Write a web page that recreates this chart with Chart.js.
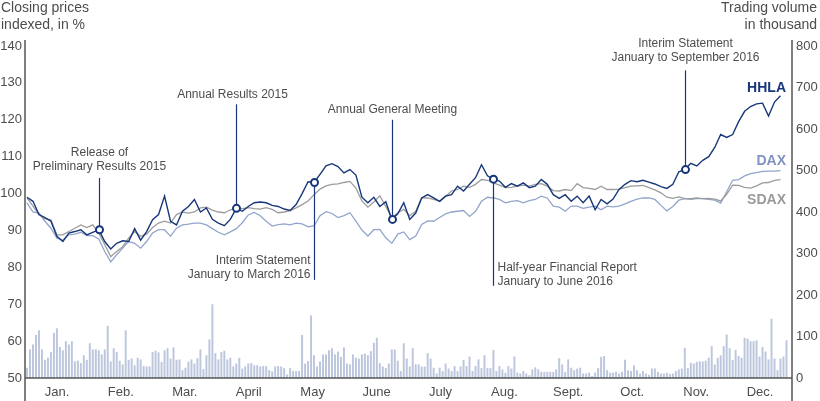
<!DOCTYPE html>
<html>
<head>
<meta charset="utf-8">
<script src="https://cdn.jsdelivr.net/npm/chart.js@4.4.0/dist/chart.umd.min.js"></script>
<style>
  html, body { margin: 0; padding: 0; background: #fff; }
  #wrap { width: 820px; height: 401px; position: relative; }
</style>
</head>
<body>
<div id="wrap"><canvas id="stock"></canvas></div>
<script>
// month labels on the time axis
const months = ['Jan.', 'Feb.', 'Mar.', 'April', 'May', 'June', 'July', 'Aug.', 'Sept.', 'Oct.', 'Nov.', 'Dec.'];

// closing prices indexed in %, one value every second trading day
const hhla = [99, 97.9, 94.3, 93.5, 92.5, 88.4, 87, 89.3, 89.7, 90.2, 88.8, 89.5, 90.2, 87, 85, 86.5, 87.2, 87, 90.5, 87.4, 89.7, 92.9, 94.3, 99.3, 92.5, 91.5, 95.2, 96.5, 98.4, 95, 96.1, 93,
  92, 91.3, 93, 96, 95.2, 96.5, 97.5, 97.7, 97.5, 96.8, 96.5, 95.8, 95.4, 97, 100, 103.2, 103, 105.2, 107.5, 108.1, 107.3, 105.6, 106.5, 105, 99, 97.5, 99, 96.5, 97.8, 93, 94.5, 97.5, 93,
  94.7, 98.8, 99.7, 98.8, 97.9, 99.3, 99.7, 102, 100.7, 102.5, 104.3, 107.8, 104.8, 103.9, 103.4, 101.7, 102.7, 102, 102.9, 101.6, 102, 103.8, 102.5, 99.7, 98.7, 99.7, 97.9, 99.3, 97.5, 99.3, 95.6, 98.4, 97.2,
  98.5, 101.1, 102.5, 103.5, 103.2, 103.6, 103.1, 102.6, 101.9, 101.4, 102.5, 105.9, 106.5, 108.2, 107.5, 109, 110, 112.5, 116, 115.2, 116, 119.5, 122.3, 123.6, 124.3, 124.5, 121, 124.8, 126.5];

const dax = [97.5, 95, 94.7, 92.5, 90.6, 87.9, 87.4, 88.8, 89, 89.5, 88.6, 88.6, 87.7, 84.3, 81.5, 83.4, 85.2, 87, 86.5, 85.2, 87, 89.3, 90.2, 90.2, 88.4, 90.6, 91.5, 91.7, 92, 92, 91.5, 90.5,
  89.5, 88.8, 89.6, 90.5, 92.1, 94.2, 94.9, 94, 92.5, 91.2, 91.6, 91.8, 91.5, 92, 91.8, 91, 91.2, 94, 95.1, 94.6, 93.5, 94, 94.8, 92.5, 90.1, 88.5, 90.2, 90.3, 88, 86.5, 89, 89.6, 87.5,
  88.5, 91.6, 92.6, 92.5, 93.5, 94.5, 95, 95.2, 95.4, 93.8, 95.2, 97.9, 99, 98.8, 98.4, 97.5, 97.9, 98.1, 97.5, 98.1, 98.4, 99.3, 98.8, 96.6, 96.3, 95.2, 96.6, 96.6, 96, 96.3, 96.6, 95.6, 96.6,
  96.4, 96.6, 97.2, 97.9, 98.5, 98.8, 98.8, 98.4, 96.8, 95.3, 96.5, 98.2, 98.6, 98.4, 98.6, 98.6, 98.4, 98.2, 97.4, 100.5, 103.6, 103.8, 104.8, 105.4, 105.7, 106, 106.1, 106.1, 106.2];

const sdax = [98.8, 96.6, 94.3, 93.2, 92.9, 88.8, 88.8, 89.7, 90.6, 91.5, 90.8, 91.5, 89.3, 86.1, 82.9, 84.3, 85.6, 87.9, 89.7, 88.4, 89, 90.8, 92, 92.5, 92, 94.3, 95, 94.7, 95, 96.1, 96.3, 95.5,
  95, 94.8, 95.6, 96, 95.9, 96.2, 95.9, 95.8, 96.2, 95.7, 94.8, 95, 95.4, 96.1, 97, 98, 99.7, 101.2, 102.1, 102.5, 102.6, 103, 103.3, 101.5, 98, 96.3, 97.7, 99.4, 96.5, 93.4, 94.8, 95.7, 94,
  95.2, 98.8, 98.8, 98.4, 97.9, 99.3, 100.7, 101.1, 102, 101.7, 102.5, 103.8, 103.6, 102.9, 102.3, 101.6, 101.7, 102, 102.3, 102, 102.5, 102.7, 102, 100.8, 100.7, 101.1, 100.8, 102.7, 101.6, 101.4, 101.1, 102, 101.1,
  101.1, 101.2, 101.6, 102, 102.1, 102.2, 101.6, 101, 100.2, 99, 98.7, 99.1, 98.6, 98.6, 98.8, 98.6, 98.7, 98.5, 98, 99.8, 102.3, 102.2, 101.7, 101.5, 102.1, 102.9, 103, 103.6, 103.8];

// trading volume in thousand, one value per trading day
const volume = [24, 68, 80, 103, 114, 68, 43, 48, 62, 108, 119, 74, 66, 88, 80, 88, 39, 41, 35, 54, 43, 83, 68, 68, 66, 56, 68, 125, 39, 71, 62, 41, 32, 114, 43, 46, 30, 48, 44, 28, 27, 27, 62, 65, 61, 38, 66, 71, 46, 73, 43, 44, 18, 24, 39, 44, 34, 47, 68, 21, 54, 92, 177, 59, 44, 62, 65, 44, 48, 27, 34, 48, 22, 27, 34, 35, 30, 30, 27, 28, 28, 18, 15, 27, 28,
  27, 23, 8, 23, 16, 16, 16, 103, 34, 40, 150, 54, 27, 39, 56, 56, 66, 71, 56, 63, 50, 73, 34, 32, 56, 48, 46, 56, 58, 54, 64, 84, 96, 35, 27, 23, 34, 68, 68, 41, 16, 83, 46, 27, 71, 32, 32, 27, 27, 59, 46, 24, 10, 24, 16, 34, 22, 16, 28, 16, 27, 43, 28, 51, 16, 28, 44, 23, 54, 23, 23, 67, 16, 28, 20, 12, 28, 22, 51, 12, 10, 16, 10, 6, 20, 25, 20, 14, 14, 14, 14,
  14, 20, 47, 32, 14, 44, 24, 18, 22, 24, 10, 10, 12, 4, 12, 23, 50, 52, 18, 12, 12, 14, 10, 14, 43, 18, 16, 30, 18, 10, 16, 10, 7, 22, 22, 14, 10, 10, 12, 9, 10, 16, 20, 22, 72, 23, 36, 34, 38, 39, 39, 41, 48, 76, 32, 48, 54, 76, 104, 71, 43, 67, 52, 48, 96, 94, 88, 88, 90, 51, 74, 63, 44, 142, 46, 18, 46, 51, 90];

// events (trading day) and their captions
const eventDays = [24, 70, 96, 122, 156, 220];
const eventTexts = [
  ['Release of', 'Preliminary Results 2015'],
  ['Annual Results 2015'],
  ['Interim Statement', 'January to March 2016'],
  ['Annual General Meeting'],
  ['Half-year Financial Report', 'January to June 2016'],
  ['Interim Statement', 'January to September 2016']
];

// caption placement, in index points on the left scale
const eventLayout = [
  { align: 'center', dx: 0, textAt: 111.1, lineTo: 104.2 },
  { align: 'center', dx: -4, textAt: 126.8, lineTo: 124.2 },
  { align: 'right', dx: -4, textAt: 81.7, lineTo: 76.6 },
  { align: 'center', dx: 0, textAt: 122.8, lineTo: 120 },
  { align: 'left', dx: 4, textAt: 79.9, lineTo: 75 },
  { align: 'center', dx: 0, textAt: 140.5, lineTo: 133.4 }
];

const family = '"Liberation Sans", Arial, sans-serif';
const textGrey = '#4d4d4d';
const axisGrey = '#555555';
const navy = '#17377a';
const lightBlue = '#93a5cb';
const grey = '#9c9c9c';
const barColor = '#bcc6dc';

const seriesLabels = [
  { text: 'HHLA', color: navy, at: 128.7 },
  { text: 'DAX', color: '#7f92c0', at: 108.9 },
  { text: 'SDAX', color: '#9a9a9a', at: 98.2 }
];

const everyOther = arr => arr.map((v, i) => ({ x: i * 2, y: v }));

const frame = {
  id: 'frame',
  afterDatasetsDraw(chart) {
    const { ctx, chartArea: a } = chart;
    const y = chart.scales.y;
    ctx.save();
    ctx.strokeStyle = axisGrey;
    ctx.lineWidth = 1.5;
    ctx.beginPath();
    ctx.moveTo(a.left, a.top - 6);
    ctx.lineTo(a.left, chart.height);
    ctx.moveTo(a.right, a.top - 6);
    ctx.lineTo(a.right, chart.height);
    ctx.moveTo(a.left, a.bottom);
    ctx.lineTo(a.right, a.bottom);
    ctx.stroke();

    ctx.fillStyle = textGrey;
    ctx.font = '14px ' + family;
    ctx.textBaseline = 'middle';
    ctx.textAlign = 'left';
    ctx.fillText('Closing prices', 1, 8);
    ctx.fillText('indexed, in %', 1, 25);
    ctx.textAlign = 'right';
    ctx.fillText('Trading volume', chart.width - 3, 8);
    ctx.fillText('in thousand', chart.width - 3, 25);

    ctx.font = 'bold 14px ' + family;
    seriesLabels.forEach(s => {
      ctx.fillStyle = s.color;
      ctx.fillText(s.text, a.right - 6, y.getPixelForValue(s.at));
    });
    ctx.restore();
  }
};

const eventMarks = {
  id: 'eventMarks',
  afterDatasetsDraw(chart) {
    const { ctx } = chart;
    const x = chart.scales.x, y = chart.scales.y;
    ctx.save();
    ctx.font = '12px ' + family;
    ctx.textBaseline = 'middle';
    eventDays.forEach((day, i) => {
      const lay = eventLayout[i];
      const px = Math.round(x.getPixelForValue(day)) + 0.5;
      const py = y.getPixelForValue(hhla[day / 2]);
      ctx.strokeStyle = navy;
      ctx.lineWidth = 1.2;
      ctx.beginPath();
      ctx.moveTo(px, y.getPixelForValue(lay.lineTo));
      ctx.lineTo(px, py);
      ctx.stroke();

      ctx.fillStyle = textGrey;
      ctx.textAlign = lay.align;
      const ty = y.getPixelForValue(lay.textAt);
      eventTexts[i].forEach((t, j) => ctx.fillText(t, px + lay.dx, ty + j * 14));

      ctx.beginPath();
      ctx.arc(px, py, 3.5, 0, Math.PI * 2);
      ctx.fillStyle = '#fff';
      ctx.fill();
      ctx.lineWidth = 2;
      ctx.strokeStyle = navy;
      ctx.stroke();
    });
    ctx.restore();
  }
};

const ctx = document.getElementById('stock').getContext('2d');

const stockChart = new Chart(ctx, {
  type: 'bar',
  data: {
    datasets: [
      { type: 'line', label: 'HHLA', data: everyOther(hhla), borderColor: navy, borderWidth: 1.4, pointRadius: 0, tension: 0, xAxisID: 'x', yAxisID: 'y', order: 0 },
      { type: 'line', label: 'SDAX', data: everyOther(sdax), borderColor: grey, borderWidth: 1.3, pointRadius: 0, tension: 0, xAxisID: 'x', yAxisID: 'y', order: 1 },
      { type: 'line', label: 'DAX', data: everyOther(dax), borderColor: lightBlue, borderWidth: 1.3, pointRadius: 0, tension: 0, xAxisID: 'x', yAxisID: 'y', order: 2 },
      { type: 'bar', label: 'Trading volume', data: volume.map((v, i) => ({ x: i, y: v })), backgroundColor: barColor, barThickness: 1.3, xAxisID: 'x', yAxisID: 'y2', order: 3 }
    ]
  },
  options: {
    responsive: true,
    maintainAspectRatio: false,
    animation: false,
    layout: { padding: { top: 46, left: 0, right: 0, bottom: 0 } },
    plugins: {
      legend: { display: false },
      tooltip: { enabled: false },
    },
    scales: {
      x: { type: 'linear', min: -0.67, max: 255.85, display: false, offset: false },
      months: {
        type: 'linear', axis: 'x', position: 'bottom', min: 0, max: 12, offset: false,
        grid: { display: false, drawTicks: false },
        border: { display: false },
        afterBuildTicks: s => { s.ticks = months.map((m, i) => ({ value: i + 0.5 })); },
        afterFit: s => { s.height = 23; },
        ticks: {
          autoSkip: false, maxRotation: 0, padding: 7, color: textGrey,
          font: { size: 13, family: family },
          callback: (v, i) => months[i]
        }
      },
      y: {
        position: 'left', min: 50, max: 140,
        grid: { display: false, drawTicks: false },
        border: { display: false },
        afterFit: s => { s.width = 25; },
        ticks: { stepSize: 10, padding: 3, color: textGrey, font: { size: 13, family: family } }
      },
      y2: {
        position: 'right', min: 0, max: 800,
        grid: { display: false, drawTicks: false },
        border: { display: false },
        afterFit: s => { s.width = 28; },
        ticks: { stepSize: 100, padding: 4, color: textGrey, font: { size: 13, family: family } }
      }
    }
  },
  plugins: [frame, eventMarks]
});
</script>
</body>
</html>
